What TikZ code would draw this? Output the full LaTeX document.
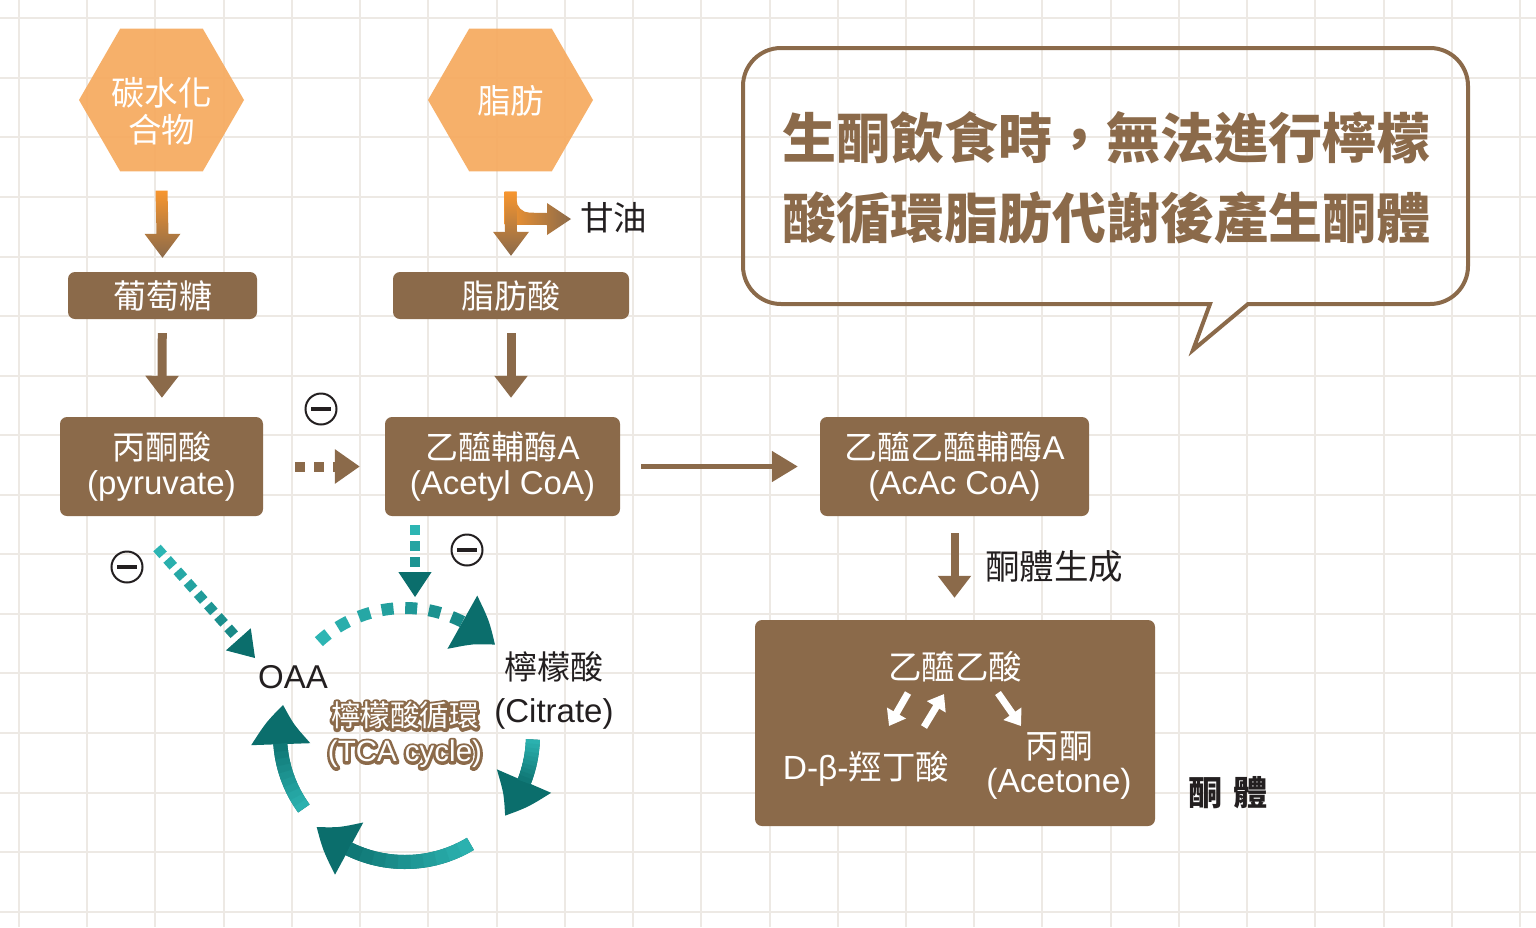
\documentclass[tikz,border=0pt]{standalone}
\usepackage{fontspec}
\setmainfont{Liberation Sans}
\newfontfamily\cjk{Noto Sans CJK TC}
\usetikzlibrary{arrows.meta,shapes.geometric,calc,bending}
\definecolor{brn}{HTML}{8B6A4A}
\definecolor{org}{HTML}{F6AA5E}
\definecolor{orgA}{HTML}{F7962F}
\definecolor{tealL}{HTML}{2DB5B3}
\definecolor{tealD}{HTML}{0B6E6C}
\definecolor{gridc}{HTML}{EDE9E4}
\definecolor{ink}{HTML}{231F20}
% vertical gradient fat arrow: #1 top of shaft, #2 tip
\newcommand\gradvarrow[2]{%
  \shade[top color=orgA, bottom color=brn]
    ($(#1)+(-6,0)$) -- ($(#1)+(6,0)$) -- ($(#2)+(6,-24)$) -- ($(#2)+(18,-24)$)
    -- (#2) -- ($(#2)+(-18,-24)$) -- ($(#2)+(-6,-24)$) -- cycle;}
% thick TCA arc: #1 start angle, #2 tip angle, #3 radius
\newcommand\tcaarc[3]{%
  \draw[line width=14pt, tealD, -{Triangle[width=56pt,length=40pt,bend]}]
    (ctr) ++(#1:#3) arc[start angle=#1, end angle=#2, radius=#3];
  \pgfmathsetmacro\hd{40/#3*180/3.14159}%
  \foreach \k in {0,...,9}{%
    \pgfmathsetmacro\pa{#1+(#2-\hd-#1)*\k/10}%
    \pgfmathsetmacro\pb{#1+(#2-\hd-#1)*(\k+1)/10+0.4}%
    \pgfmathtruncatemacro\cc{95-\k*9}%
    \draw[line width=14pt, tealL!\cc!tealD] (ctr) ++(\pa:#3) arc[start angle=\pa, end angle=\pb, radius=#3];}}
% straight teal dashed arrow: #1 start, #2 tip, #3 dashes, #4 head start fraction, #5 dash fraction
\newcommand\tealdash[5]{%
  \foreach \k in {1,...,#3}{%
    \pgfmathsetmacro\ta{(\k-1)/#3*#4}%
    \pgfmathsetmacro\tb{\ta+#5}%
    \pgfmathtruncatemacro\cc{100-(\k-1)*70/#3}%
    \draw[line width=10pt, tealL!\cc!tealD] ($(#1)!\ta!(#2)$) -- ($(#1)!\tb!(#2)$);}%
  \draw[tealD, line width=1pt, -{Triangle[width=33pt,length=25pt]}] ($(#1)!#4!(#2)$) -- (#2);}
% brown outline (stroke only) text for the halo
\newcommand\halotext[1]{\special{pdf:literal direct 1 Tr 5.5 w 1 j 0.545 0.416 0.290 RG}#1\special{pdf:literal direct 0 Tr}}
\begin{document}
\begin{tikzpicture}[x=1pt,y=-1pt,
  hexa/.style={regular polygon, regular polygon sides=6, minimum size=165pt, inner sep=0pt,
    fill=org, fill opacity=0.92},
  hextxt/.style={inner sep=0pt, text=white, align=center, font=\cjk\fontsize{33.5}{37}\selectfont},
  bbox/.style={rectangle, rounded corners=7pt, fill=brn, text=white, inner sep=0pt,
    align=center, font=\fontsize{33}{35}\selectfont},
  txt/.style={inner sep=0pt, text=ink, align=center, font=\fontsize{33}{43}\selectfont},
  wtxt/.style={inner sep=0pt, text=white, align=center, font=\fontsize{33.5}{34}\selectfont},
  minus/.style={circle, draw=ink, line width=2pt, minimum size=31pt, inner sep=0pt,
    path picture={\draw[ink, line width=4pt]
      ([xshift=-10pt]path picture bounding box.center) -- ([xshift=10pt]path picture bounding box.center);}},
  fatarrow/.style={draw=brn, line width=9pt, -{Triangle[width=32pt,length=22pt]}},
  warrow/.style={draw=white, line width=7pt, -{Triangle[width=21pt,length=15pt]}},
]
\useasboundingbox (0,0) rectangle (1536,927);
\fill[white] (0,0) rectangle (1536,927);
% grid
\foreach \k in {0,...,22}{\pgfmathtruncatemacro\gx{round(19+68.23*\k)}
  \draw[gridc, line width=1.8pt] (\gx,0) -- (\gx,927);}
\foreach \k in {0,...,15}{\pgfmathtruncatemacro\gy{round(18.3+59.56*\k)}
  \draw[gridc, line width=1.8pt] (0,\gy) -- (1536,\gy);}

% callout bubble
\draw[brn, line width=4pt] (1248,304) -- (1430,304) arc[start angle=90, end angle=0, radius=38]
  -- (1468,86) arc[start angle=0, end angle=-90, radius=38]
  -- (781,48) arc[start angle=-90, end angle=-180, radius=38]
  -- (743,266) arc[start angle=180, end angle=90, radius=38]
  -- (1210,304) -- (1193,350) -- cycle;
\node[text=brn, align=center, inner sep=0pt, font=\cjk\bfseries\fontsize{54}{80}\selectfont] (msg) at (1106.5,178)
  {生酮飲食時，無法進行檸檬\\酸循環脂肪代謝後產生酮體};

% hexagons
\node[hexa] (carb) at (161.5,100) {};
\node[hextxt] (carbt) at ($(carb.center)+(0,11)$) {碳水化\\合物};
\node[hexa] (fat) at (510.5,100) {};
\node[hextxt] (fatt) at ($(fat.center)+(0,1)$) {脂肪};

% boxes
\node[bbox, minimum width=189pt, minimum height=47pt] (glu) at (162.5,295.5) {{\cjk 葡萄糖}};
\node[bbox, minimum width=236pt, minimum height=47pt] (fa) at (511,295.5) {{\cjk 脂肪酸}};
\node[bbox, minimum width=203pt, minimum height=99pt] (pyr) at (161.5,466.5) {{\cjk 丙酮酸}\\(pyruvate)};
\node[bbox, minimum width=235pt, minimum height=99pt] (acoa) at (502.5,466.5) {{\cjk 乙醯輔酶}A\\(Acetyl CoA)};
\node[bbox, minimum width=269pt, minimum height=99pt] (acac) at (954.5,466.5) {{\cjk 乙醯乙醯輔酶}A\\(AcAc CoA)};
\node[bbox, minimum width=400pt, minimum height=206pt] (kb) at (955,723) {};

% text labels
\node[txt, anchor=west, font=\fontsize{33.5}{40}\selectfont] (gly) at (580,218) {{\cjk 甘油}};
\node[txt, anchor=west, font=\fontsize{34.5}{40}\selectfont] (ketogen) at (985,566) {{\cjk 酮體生成}};
\node[txt] (oaa) at (293,677) {OAA};
\node[txt] (cit) at (554,690) {{\cjk 檸檬酸}\\(Citrate)};
\node[txt, font=\cjk\bfseries\fontsize{34}{40}\selectfont] (kt) at (1228,793) {酮\hspace{12pt}體};
\node[minus] (m1) at (321,409) {};
\node[minus] (m2) at (127,567) {};
\node[minus] (m3) at (467,550) {};

% ketone box content
\node[wtxt] (aca) at (955,667) {{\cjk 乙醯乙酸}};
\node[wtxt] (bhb) at (866,769) {D-β-{\cjk 羥丁酸}};
\node[wtxt] (ace) at (1059,766) {{\cjk 丙酮}\\(Acetone)};
\coordinate (k1s) at (908,693); \coordinate (k1e) at (889,726);
\coordinate (k2s) at (924,727); \coordinate (k2e) at (944,694);
\coordinate (k3s) at (998,693); \coordinate (k3e) at (1021,726);
\draw[warrow] (k1s) -- (k1e);
\draw[warrow] (k2s) -- (k2e);
\draw[warrow] (k3s) -- (k3e);

% gradient arrows from hexagons
\coordinate (a1s) at ($(carb.south)+(0,19)$);
\coordinate (a1e) at ($(glu.north)+(0,-14)$);
\gradvarrow{a1s}{a1e}
\coordinate (a2s) at ($(fat.south)+(0,20)$);
\coordinate (a2e) at ($(fa.north)+(0,-16)$);
\coordinate (b2e) at ($(gly.west)+(-9,1)$);
\shade[left color=orgA, right color=brn]
  ($(a2s)+(-6,0)$) -- ($(a2s)+(6,0)$) -- ($(a2s)+(6,8)$) arc[start angle=180, end angle=90, radius=13]
  -- ($(b2e)+(-24,-6)$) -- ($(b2e)+(-24,-16)$) -- (b2e) -- ($(b2e)+(-24,16)$) -- ($(b2e)+(-24,6)$)
  -- ($(a2s)+(-6,33)$) -- cycle;
\gradvarrow{a2s}{a2e}

% brown arrows
\draw[fatarrow, shorten <=14pt, shorten >=19pt] (glu) -- (pyr);
\draw[fatarrow, shorten <=14pt, shorten >=19pt] (fa.south) -- (fa.south |- acoa.north);
\draw[brn, line width=10pt, dash pattern=on 10pt off 9pt, -{Triangle[width=33pt,length=25pt]},
  shorten <=32pt, shorten >=25pt] (pyr) -- (acoa);
\draw[brn, line width=5pt, -{Triangle[width=30pt,length=26pt]}, shorten <=21pt, shorten >=22pt] (acoa) -- (acac);
\draw[brn, line width=8pt, -{Triangle[width=32pt,length=22pt]}, shorten <=17pt, shorten >=22pt]
  (acac.south) -- (acac.south |- kb.north);

% teal dashed inhibitory arrows
\coordinate (d1s) at (157,548); \coordinate (d1e) at (255,658);
\tealdash{d1s}{d1e}{8}{0.83}{0.062}
\coordinate (v1s) at (415,525); \coordinate (v1e) at (415,597);
\tealdash{v1s}{v1e}{3}{0.667}{0.139}

% TCA cycle
\coordinate (ctr) at (405,735);
\foreach \k in {0,...,6}{%
  \pgfmathsetmacro\pa{-132.7+\k*10.7}%
  \pgfmathsetmacro\pb{\pa+5.4}%
  \pgfmathtruncatemacro\cc{100-\k*10}%
  \draw[line width=12pt, tealL!\cc!tealD] (ctr) ++(\pa:127) arc[start angle=\pa, end angle=\pb, radius=127];}
\draw[line width=12pt, tealD, -{Triangle[width=58pt,length=40pt,bend]}]
  (ctr) ++(-62:127) arc[start angle=-62, end angle=-45, radius=127];
\tcaarc{2}{39}{128}
\tcaarc{59}{134}{127}
\tcaarc{144}{194}{125}

% TCA label: brown outline, then white fill
\node[inner sep=0pt, align=center, text=brn, font=\fontsize{29.5}{35}\selectfont] (tcah) at (ctr)
  {\halotext{{\cjk 檸檬酸循環}}\\\halotext{(TCA cycle)}};
\node[inner sep=0pt, align=center, text=white, font=\fontsize{29.5}{35}\selectfont] (tca) at (ctr)
  {{\cjk 檸檬酸循環}\\(TCA cycle)};
\end{tikzpicture}
\end{document}
